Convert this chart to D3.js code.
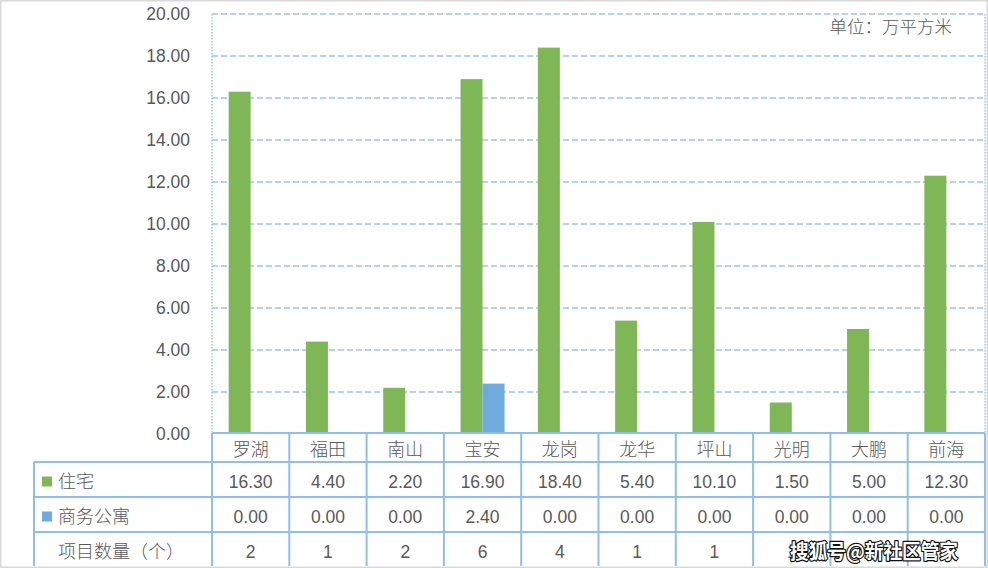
<!DOCTYPE html>
<html><head><meta charset="utf-8">
<script src="https://cdn.jsdelivr.net/npm/d3@7/dist/d3.min.js"></script>
<style>body{margin:0;background:#fff}svg{display:block}</style>
</head><body>
<script>
const categories = ["罗湖","福田","南山","宝安","龙岗","龙华","坪山","光明","大鹏","前海"];
const residential = [16.30,4.40,2.20,16.90,18.40,5.40,10.10,1.50,5.00,12.30];
const apartment = [0.00,0.00,0.00,2.40,0.00,0.00,0.00,0.00,0.00,0.00];
const projectCounts = [2,1,2,6,4,1,1,1,1,1];
const seriesNames = ["住宅","商务公寓","项目数量（个）"];
const yTicks = [0,2,4,6,8,10,12,14,16,18,20];
const unitLabel = "单位：万平方米";
const watermark = "搜狐号@新社区管家";

(function(){
const W = 988, H = 568;
const green = "#7fb757", blue = "#6fabdc", lineBlue = "#8fbfe7", textCol = "#595959";
const font = "'Liberation Sans','Noto Sans CJK SC',sans-serif";
const cjk = "'Noto Sans CJK SC',sans-serif";

const svg = d3.select("body").append("svg").attr("width", W).attr("height", H);
svg.append("rect").attr("x",0.5).attr("y",0.5).attr("width",W-1).attr("height",H-1)
  .attr("fill","#fff").attr("stroke","#d9d9d9").attr("stroke-width",2);

const pL = 212, pR = 985, pT = 14, pB = 434;
const x = d3.scaleBand().domain(categories).range([pL, pR]).paddingInner(0).paddingOuter(0);
const y = d3.scaleLinear().domain([0,20]).range([pB, pT]);

svg.append("g").selectAll("line").data(yTicks.filter(d=>d>0)).join("line")
  .attr("x1", pL).attr("x2", pR).attr("y1", d=>y(d)).attr("y2", d=>y(d))
  .attr("stroke", "#9cc5ea").attr("stroke-width", 1.3).attr("stroke-dasharray","6,3");
[pL, pR].forEach(xx => svg.append("line").attr("x1",xx).attr("x2",xx).attr("y1",pT).attr("y2",pB)
  .attr("stroke","#9cc5ea").attr("stroke-width",1.5).attr("stroke-dasharray","1.5,1.5"));

const yAxis = d3.axisLeft(y).tickValues(yTicks).tickFormat(d3.format(".2f")).tickSize(0).tickPadding(0);
const ga = svg.append("g").attr("transform", `translate(190,0)`).call(yAxis);
ga.select(".domain").remove();
ga.selectAll("text").attr("font-family", font).attr("font-size", 17.5).attr("fill", textCol);

const bw = 22;
svg.append("g").selectAll("rect").data(categories).join("rect")
  .attr("x", d => x(d) + x.bandwidth()/2 - bw)
  .attr("width", bw)
  .attr("y", (d,i) => y(residential[i]))
  .attr("height", (d,i) => y(0) - y(residential[i]))
  .attr("fill", green);
svg.append("g").selectAll("rect").data(categories).join("rect")
  .attr("x", d => x(d) + x.bandwidth()/2)
  .attr("width", bw)
  .attr("y", (d,i) => y(apartment[i]))
  .attr("height", (d,i) => y(0) - y(apartment[i]))
  .attr("fill", blue);

svg.append("text").attr("x", 952).attr("y", 33).attr("text-anchor","end")
  .attr("font-family", cjk).attr("font-size", 17.5).attr("font-weight", 300).attr("fill", textCol).text(unitLabel);

const rowY = [433, 462, 497, 532, 567];
const tLeft = 34;
const tg = svg.append("g");
tg.append("line").attr("x1", pL).attr("x2", pR).attr("y1", rowY[0]).attr("y2", rowY[0])
  .attr("stroke", lineBlue).attr("stroke-width", 2);
[1,2,3].forEach(r => tg.append("line").attr("x1", tLeft).attr("x2", pR)
  .attr("y1", rowY[r]).attr("y2", rowY[r]).attr("stroke", lineBlue).attr("stroke-width", 2));
tg.append("line").attr("x1", tLeft).attr("x2", tLeft).attr("y1", rowY[1]).attr("y2", 566)
  .attr("stroke", lineBlue).attr("stroke-width", 2);
const bounds = categories.map(c => x(c)).concat([pR]);
tg.selectAll("line.v").data(bounds).join("line").attr("class","v")
  .attr("x1", d=>d).attr("x2", d=>d).attr("y1", rowY[0]).attr("y2", 566)
  .attr("stroke", lineBlue).attr("stroke-width", 2);

tg.selectAll("text.cat").data(categories).join("text").attr("class","cat")
  .attr("x", d => x(d) + x.bandwidth()/2).attr("y", (rowY[0]+rowY[1])/2 + 8)
  .attr("text-anchor","middle").attr("font-family", cjk).attr("font-size", 18).attr("font-weight", 300)
  .attr("fill", textCol).text(d => d);

const rows = [residential.map(v=>v.toFixed(2)), apartment.map(v=>v.toFixed(2)), projectCounts.map(String)];
rows.forEach((vals, r) => {
  const cy = (rowY[r+1] + rowY[r+2]) / 2;
  tg.selectAll(`text.r${r}`).data(vals).join("text").attr("class", `r${r}`)
    .attr("x", (d,i) => x(categories[i]) + x.bandwidth()/2).attr("y", cy + 8)
    .attr("text-anchor","middle").attr("font-family", font).attr("font-size", 17.5)
    .attr("fill", textCol).text(d => d);
  tg.append("text").attr("x", 58).attr("y", cy + 8).attr("font-family", cjk).attr("font-weight", 300)
    .attr("font-size", 18).attr("fill", textCol).text(seriesNames[r]);
});
tg.append("rect").attr("x", 42).attr("y", (rowY[1]+rowY[2])/2 - 3).attr("width", 10).attr("height", 10).attr("fill", green);
tg.append("rect").attr("x", 42).attr("y", (rowY[2]+rowY[3])/2 - 3).attr("width", 10).attr("height", 10).attr("fill", blue);

svg.append("text").attr("x", 790).attr("y", 559)
  .attr("font-family", cjk).attr("font-weight", "bold").attr("font-size", 20)
  .attr("textLength", 168).attr("lengthAdjust", "spacingAndGlyphs")
  .attr("fill", "#fff").attr("stroke", "#111").attr("stroke-width", 2.4)
  .attr("paint-order", "stroke").attr("stroke-linejoin","round").text(watermark);
})();
</script>
</body></html>
